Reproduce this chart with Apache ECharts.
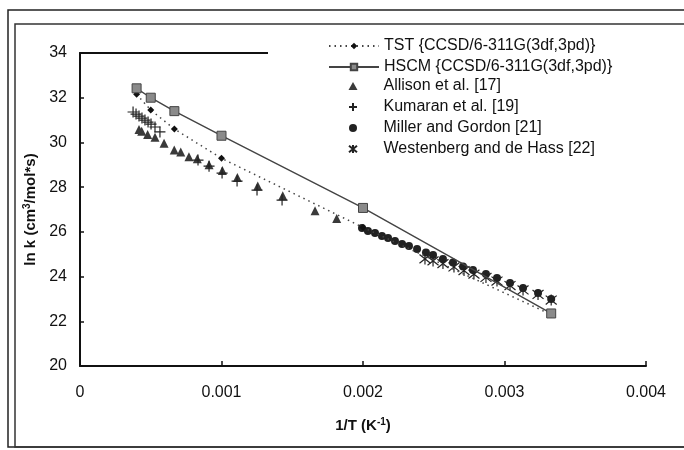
<!DOCTYPE html>
<html><head><meta charset="utf-8">
<script src="https://cdn.jsdelivr.net/npm/echarts@6/dist/echarts.min.js"></script>
<style>html,body{margin:0;padding:0;background:#fff}#c{width:684px;height:450px}</style>
</head><body><div id="c"></div>
<script>
var tstX = [0.0004, 0.0005, 0.000667, 0.001, 0.002, 0.00333];
var tstY = [32.15, 31.45, 30.6, 29.29, 26.2, 22.3];
var hscmX = [0.0004, 0.0005, 0.000667, 0.001, 0.002, 0.00333];
var hscmY = [32.42, 32.0, 31.4, 30.3, 27.07, 22.35];
var allisonX = [0.000417, 0.000436, 0.000478, 0.00053, 0.000594, 0.000666, 0.000712, 0.00077, 0.000829, 0.000912, 0.001006, 0.001112, 0.001256, 0.001433, 0.001661, 0.001814];
var allisonY = [30.58, 30.5, 30.36, 30.23, 29.96, 29.66, 29.57, 29.36, 29.27, 29.0, 28.74, 28.43, 28.05, 27.62, 26.94, 26.6];
var kumaranX = [0.000375, 0.000396, 0.000417, 0.000438, 0.000459, 0.000481, 0.000502, 0.00053, 0.000565, 0.000834, 0.000912, 0.001004, 0.00111, 0.001251, 0.001428];
var kumaranY = [31.36, 31.27, 31.18, 31.09, 31.0, 30.91, 30.82, 30.69, 30.47, 29.21, 28.94, 28.63, 28.27, 27.87, 27.42];
var millerX = [0.001993, 0.002035, 0.002085, 0.002134, 0.002177, 0.002226, 0.002276, 0.002325, 0.002382, 0.002445, 0.002495, 0.002565, 0.002636, 0.002707, 0.002777, 0.002869, 0.002947, 0.003039, 0.003131, 0.003237, 0.00333];
var millerY = [26.17, 26.04, 25.95, 25.81, 25.72, 25.59, 25.46, 25.37, 25.23, 25.08, 24.96, 24.79, 24.63, 24.45, 24.29, 24.11, 23.94, 23.71, 23.49, 23.26, 23.0];
var westX = [0.002438, 0.002495, 0.002565, 0.002643, 0.002714, 0.002784, 0.002869, 0.002947, 0.003039, 0.003131, 0.003237, 0.00333];
var westY = [24.79, 24.70, 24.58, 24.43, 24.27, 24.11, 23.96, 23.80, 23.60, 23.40, 23.20, 22.95];
var seriesNames = ['TST {CCSD/6-311G(3df,3pd)}', 'HSCM {CCSD/6-311G(3df,3pd)}', 'Allison et al. [17]', 'Kumaran et al. [19]', 'Miller and Gordon [21]', 'Westenberg and de Hass [22]'];
var xTicks = [0, 0.001, 0.002, 0.003, 0.004];
var yTicks = [20, 22, 24, 26, 28, 30, 32, 34];

function pairs(xs, ys) { return xs.map(function (x, i) { return [x, ys[i]]; }); }
var FONT = '"Liberation Sans", Arial, sans-serif';
var chart = echarts.init(document.getElementById('c'));
chart.setOption({
  animation: false,
  backgroundColor: '#fff',
  textStyle: { fontFamily: FONT },
  graphic: [
    { type: 'rect', shape: { x: 8, y: 10, width: 720, height: 437 }, style: { fill: 'none', stroke: '#222', lineWidth: 1.5 }, z: 100 },
    { type: 'rect', shape: { x: 15, y: 24, width: 720, height: 423 }, style: { fill: 'none', stroke: '#333', lineWidth: 1.5 }, z: 100 }
  ],
  grid: { left: 80, right: 38, top: 53, bottom: 84 },
  legend: [
    {
      data: seriesNames.slice(0, 2), left: 268, top: 31, orient: 'vertical',
      padding: [7, 40, 5, 60], backgroundColor: '#fff', itemWidth: 50, itemHeight: 8, itemGap: 5,
      selectedMode: false, textStyle: { fontSize: 16, color: '#111', fontFamily: FONT }
    },
    {
      data: seriesNames.slice(2), left: 348, top: 78, orient: 'vertical', padding: 0,
      itemWidth: 9, itemHeight: 8, itemGap: 5,
      selectedMode: false, textStyle: { fontSize: 16, color: '#111', fontFamily: FONT, padding: [0, 0, 0, 21] }
    }
  ],
  xAxis: [{
    type: 'value', min: 0, max: 0.004, interval: 0.001, position: 'bottom',
    axisLine: { lineStyle: { color: '#111', width: 2 } },
    axisTick: { inside: true, length: 5, lineStyle: { color: '#111', width: 1.5 } },
    splitLine: { show: false },
    axisLabel: { fontSize: 16, color: '#111', margin: 19, formatter: function (v) { return v === 0 ? '0' : v.toFixed(3); } },
    name: '1/T (K{sup|-1})', nameLocation: 'middle', nameGap: 51,
    nameTextStyle: { fontSize: 15, fontWeight: 'bold', color: '#111', rich: { sup: { fontSize: 10, fontWeight: 'bold', verticalAlign: 'top', padding: [0, 0, 8, 0] } } }
  }, {
    type: 'value', min: 0, max: 0.004, position: 'top',
    axisLine: { show: true, lineStyle: { color: '#111', width: 2 } },
    axisTick: { show: false }, axisLabel: { show: false }, splitLine: { show: false }
  }],
  yAxis: {
    type: 'value', min: 20, max: 34, interval: 2,
    axisLine: { show: true, lineStyle: { color: '#111', width: 2 } },
    axisTick: { show: true, inside: true, length: 4, lineStyle: { color: '#111', width: 1.5 } },
    splitLine: { show: false },
    axisLabel: { fontSize: 16, color: '#111', margin: 13 },
    name: 'ln k (cm{sup|3}/mol*s)', nameLocation: 'middle', nameGap: 37, nameRotate: 90,
    nameTextStyle: { fontSize: 15, fontWeight: 'bold', color: '#111', rich: { sup: { fontSize: 10, fontWeight: 'bold', verticalAlign: 'top', padding: [0, 0, 8, 0] } } }
  },
  series: [
    { name: seriesNames[0], type: 'line', data: pairs(tstX, tstY), symbol: 'diamond', symbolSize: 7,
      itemStyle: { color: '#111' }, lineStyle: { color: '#444', width: 1.5, type: [1.5, 4] }, z: 3 },
    { name: seriesNames[1], type: 'line', data: pairs(hscmX, hscmY), symbol: 'rect', symbolSize: 9,
      itemStyle: { color: '#8a8a8a', borderColor: '#444', borderWidth: 1 }, lineStyle: { color: '#444', width: 1.4 }, z: 3 },
    { name: seriesNames[2], type: 'scatter', data: pairs(allisonX, allisonY), symbol: 'triangle', symbolSize: 9,
      itemStyle: { color: '#3a3a3a', opacity: 1 } },
    { name: seriesNames[3], type: 'scatter', data: pairs(kumaranX, kumaranY), symbol: 'path://M5,0L5,10M0,5L10,5', symbolSize: 11,
      itemStyle: { color: 'rgba(0,0,0,0)', borderColor: '#222', borderWidth: 1.2, opacity: 1 } },
    { name: seriesNames[4], type: 'scatter', data: pairs(millerX, millerY), symbol: 'circle', symbolSize: 8,
      itemStyle: { color: '#222', opacity: 1 } },
    { name: seriesNames[5], type: 'scatter', data: pairs(westX, westY), symbol: 'path://M0,1L10,9M10,1L0,9M5,0L5,10', symbolSize: 11,
      itemStyle: { color: 'rgba(0,0,0,0)', borderColor: '#222', borderWidth: 1.2, opacity: 1 } }
  ]
});
</script></body></html>
